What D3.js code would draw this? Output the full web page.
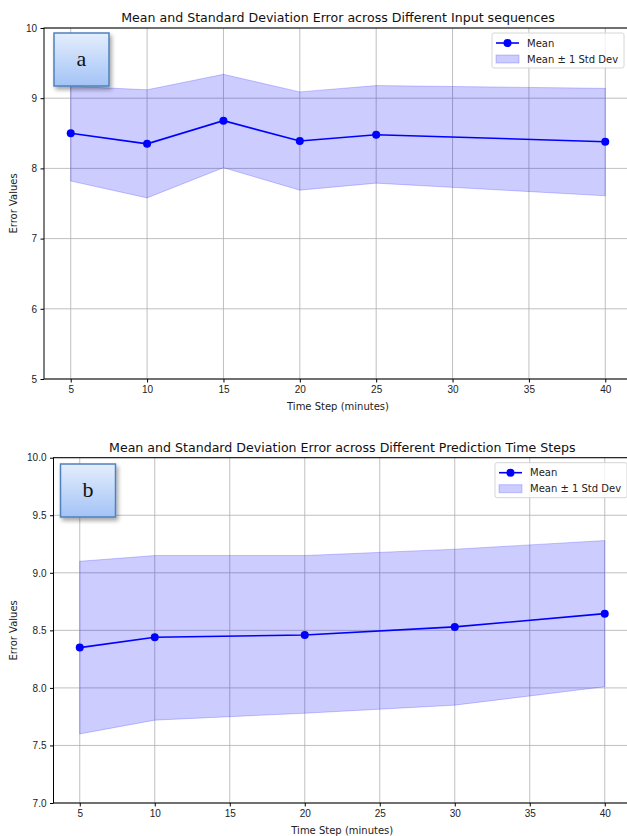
<!DOCTYPE html>
<html lang="en">
<head>
    <meta charset="UTF-8">
    <script src="https://d3js.org/d3.v7.min.js"></script>
    <title>Mean and Std Dev Error</title>
    <style>
        body { margin: 0; background: white; }
        svg { display: block; font-family: "DejaVu Sans", sans-serif; }
        .grid line { stroke: #b0b0b0; stroke-width: 0.8px; }
        .axis path, .axis line { stroke: black; }
        .axis text { font-size: 10px; fill: #222; }
    </style>
</head>
<body>
    <svg id="chart" width="627" height="836"></svg>
    <script>
        /*------------------- Data --------------------*/
        // panel a: input sequences
        const stepsA = [5, 10, 15, 20, 25, 40];
        const meanA = [8.50, 8.35, 8.68, 8.39, 8.48, 8.38];
        const upperA = [9.17, 9.12, 9.34, 9.09, 9.18, 9.14];
        const lowerA = [7.82, 7.58, 8.01, 7.69, 7.79, 7.61];
        const yTicksA = [5, 6, 7, 8, 9, 10];

        // panel b: prediction time steps
        const stepsB = [5, 10, 20, 30, 40];
        const meanB = [8.35, 8.44, 8.46, 8.53, 8.645];
        const upperB = [9.10, 9.15, 9.15, 9.205, 9.28];
        const lowerB = [7.60, 7.72, 7.78, 7.85, 8.01];
        const yTicksB = [7.0, 7.5, 8.0, 8.5, 9.0, 9.5, 10.0];

        const xTicks = [5, 10, 15, 20, 25, 30, 35, 40];

        const svg = d3.select("#chart");

        // defs for the label boxes
        const defs = svg.append("defs");
        const grad = defs.append("linearGradient")
            .attr("id", "boxGrad")
            .attr("x1", 0).attr("y1", 0).attr("x2", 0).attr("y2", 1);
        grad.append("stop").attr("offset", "0%").attr("stop-color", "#e4eefd");
        grad.append("stop").attr("offset", "100%").attr("stop-color", "#a3c3f6");
        const shadow = defs.append("filter").attr("id", "boxShadow")
            .attr("x", "-30%").attr("y", "-30%").attr("width", "160%").attr("height", "160%");
        shadow.append("feDropShadow")
            .attr("dx", 2).attr("dy", 3).attr("stdDeviation", 2)
            .attr("flood-color", "#000").attr("flood-opacity", 0.35);

        function drawPanel(cfg) {
            const g = svg.append("g");

            const x = d3.scaleLinear().domain([3.25, 41.75]).range([cfg.left, cfg.right]);
            const y = d3.scaleLinear().domain(cfg.yDomain).range([cfg.bottom, cfg.top]);
            const midX = (cfg.left + cfg.right) / 2;

            // grid
            g.append("g").attr("class", "grid")
                .selectAll("line.v").data(xTicks).enter().append("line")
                .attr("x1", d => x(d)).attr("x2", d => x(d))
                .attr("y1", cfg.top).attr("y2", cfg.bottom);
            g.append("g").attr("class", "grid")
                .selectAll("line.h").data(cfg.yTicks).enter().append("line")
                .attr("x1", cfg.left).attr("x2", cfg.right)
                .attr("y1", d => y(d)).attr("y2", d => y(d));

            // std band
            const area = d3.area()
                .x((d, i) => x(cfg.steps[i]))
                .y0((d, i) => y(cfg.lower[i]))
                .y1((d, i) => y(cfg.upper[i]));
            g.append("path")
                .datum(cfg.steps)
                .attr("d", area)
                .attr("fill", "#0000ff")
                .attr("fill-opacity", 0.2)
                .attr("stroke", "#0000ff")
                .attr("stroke-opacity", 0.2)
                .attr("stroke-width", 1);

            // mean line
            const line = d3.line()
                .x((d, i) => x(cfg.steps[i]))
                .y(d => y(d));
            g.append("path")
                .datum(cfg.mean)
                .attr("d", line)
                .attr("fill", "none")
                .attr("stroke", "#0000ff")
                .attr("stroke-width", 1.6);
            g.selectAll("circle").data(cfg.mean).enter().append("circle")
                .attr("cx", (d, i) => x(cfg.steps[i]))
                .attr("cy", d => y(d))
                .attr("r", 4)
                .attr("fill", "#0000ff");

            // spines
            g.append("rect")
                .attr("x", cfg.left).attr("y", cfg.top)
                .attr("width", cfg.right - cfg.left).attr("height", cfg.bottom - cfg.top)
                .attr("fill", "none").attr("stroke", "black").attr("stroke-width", 1);

            // axes
            g.append("g").attr("class", "axis")
                .attr("transform", `translate(0,${cfg.bottom})`)
                .call(d3.axisBottom(x).tickValues(xTicks).tickSize(3.5).tickPadding(3.5).tickFormat(d3.format("d")))
                .call(a => a.select(".domain").remove());
            g.append("g").attr("class", "axis")
                .attr("transform", `translate(${cfg.left},0)`)
                .call(d3.axisLeft(y).tickValues(cfg.yTicks).tickSize(3.5).tickPadding(3.5).tickFormat(cfg.yFormat))
                .call(a => a.select(".domain").remove());

            // labels
            g.append("text")
                .attr("x", midX).attr("y", cfg.top - 6)
                .attr("text-anchor", "middle")
                .attr("font-size", 12.6).attr("fill", "#111")
                .text(cfg.title);
            g.append("text")
                .attr("x", midX).attr("y", cfg.bottom + 31)
                .attr("text-anchor", "middle")
                .attr("font-size", 10).attr("fill", "#222")
                .text("Time Step (minutes)");
            g.append("text")
                .attr("transform", `translate(17,${(cfg.top + cfg.bottom) / 2}) rotate(-90)`)
                .attr("text-anchor", "middle")
                .attr("font-size", 10).attr("fill", "#222")
                .text("Error Values");

            // legend
            const lg = g.append("g").attr("transform", `translate(${cfg.legendX},${cfg.top + 5})`);
            lg.append("rect")
                .attr("width", 132).attr("height", 35).attr("rx", 2)
                .attr("fill", "white").attr("fill-opacity", 0.8)
                .attr("stroke", "#d6d6d6");
            lg.append("line")
                .attr("x1", 4).attr("x2", 27).attr("y1", 10).attr("y2", 10)
                .attr("stroke", "#0000ff").attr("stroke-width", 1.6);
            lg.append("circle").attr("cx", 15.5).attr("cy", 10).attr("r", 4).attr("fill", "#0000ff");
            lg.append("rect")
                .attr("x", 4).attr("y", 22).attr("width", 23).attr("height", 8)
                .attr("fill", "#0000ff").attr("fill-opacity", 0.2)
                .attr("stroke", "#0000ff").attr("stroke-opacity", 0.2);
            lg.append("text").attr("x", 35).attr("y", 13.5)
                .attr("font-size", 10).attr("fill", "#222").text("Mean");
            lg.append("text").attr("x", 35).attr("y", 29.5)
                .attr("font-size", 10).attr("fill", "#222").text("Mean \u00b1 1 Std Dev");

            // letter box
            const bx = g.append("g").attr("transform", `translate(${cfg.boxX},${cfg.boxY})`);
            bx.append("rect")
                .attr("width", 55).attr("height", 53)
                .attr("fill", "url(#boxGrad)")
                .attr("stroke", "#4f81bd").attr("stroke-width", 1.5)
                .attr("filter", "url(#boxShadow)");
            bx.append("text")
                .attr("x", 27.5).attr("y", 33)
                .attr("text-anchor", "middle")
                .attr("font-family", "'Liberation Serif', 'DejaVu Serif', serif")
                .attr("font-size", 22).attr("fill", "#111")
                .text(cfg.letter);
        }

        drawPanel({
            steps: stepsA, mean: meanA, upper: upperA, lower: lowerA,
            yDomain: [5, 10], yTicks: yTicksA, yFormat: d3.format("d"),
            left: 44, right: 632, top: 28, bottom: 379,
            title: "Mean and Standard Deviation Error across Different Input sequences",
            legendX: 492, boxX: 54, boxY: 33, letter: "a"
        });

        drawPanel({
            steps: stepsB, mean: meanB, upper: upperB, lower: lowerB,
            yDomain: [7, 10], yTicks: yTicksB, yFormat: d3.format(".1f"),
            left: 53.5, right: 631, top: 457.7, bottom: 803,
            title: "Mean and Standard Deviation Error across Different Prediction Time Steps",
            legendX: 495, boxX: 60.5, boxY: 464, letter: "b"
        });
    </script>
</body>
</html>
